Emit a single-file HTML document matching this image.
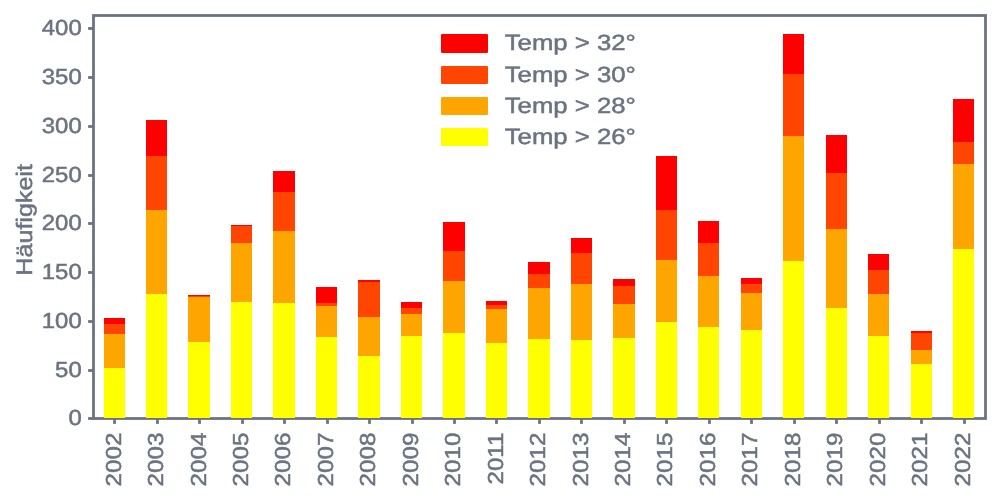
<!DOCTYPE html>
    <html><head><meta charset="utf-8"><style>
    html,body{margin:0;padding:0;background:#fff;}
    body{width:1000px;height:500px;overflow:hidden;}
    svg{display:block;}
    .tx{opacity:0.999;}
    text{font-family:"Liberation Sans",sans-serif;text-rendering:geometricPrecision;fill:#6b7280;stroke:#6b7280;stroke-width:0.5px;}
    </style></head><body>
    <svg width="1000" height="500" viewBox="0 0 1000 500">
    <rect width="1000" height="500" fill="#fff"/>
    <rect x="93.5" y="15.5" width="892.0" height="403.0" fill="none" stroke="#6b7280" stroke-width="2.78"/>
    <g stroke="#6b7280" stroke-width="2.78">
    <line x1="88.10" y1="418.50" x2="93.50" y2="418.50"/>
<line x1="88.10" y1="370.50" x2="93.50" y2="370.50"/>
<line x1="88.10" y1="321.50" x2="93.50" y2="321.50"/>
<line x1="88.10" y1="272.50" x2="93.50" y2="272.50"/>
<line x1="88.10" y1="223.50" x2="93.50" y2="223.50"/>
<line x1="88.10" y1="175.50" x2="93.50" y2="175.50"/>
<line x1="88.10" y1="126.50" x2="93.50" y2="126.50"/>
<line x1="88.10" y1="77.50" x2="93.50" y2="77.50"/>
<line x1="88.10" y1="28.50" x2="93.50" y2="28.50"/>
<line x1="114.50" y1="418.50" x2="114.50" y2="423.90"/>
<line x1="157.50" y1="418.50" x2="157.50" y2="423.90"/>
<line x1="199.50" y1="418.50" x2="199.50" y2="423.90"/>
<line x1="242.50" y1="418.50" x2="242.50" y2="423.90"/>
<line x1="284.50" y1="418.50" x2="284.50" y2="423.90"/>
<line x1="327.50" y1="418.50" x2="327.50" y2="423.90"/>
<line x1="369.50" y1="418.50" x2="369.50" y2="423.90"/>
<line x1="412.50" y1="418.50" x2="412.50" y2="423.90"/>
<line x1="454.50" y1="418.50" x2="454.50" y2="423.90"/>
<line x1="496.50" y1="418.50" x2="496.50" y2="423.90"/>
<line x1="539.50" y1="418.50" x2="539.50" y2="423.90"/>
<line x1="581.50" y1="418.50" x2="581.50" y2="423.90"/>
<line x1="624.50" y1="418.50" x2="624.50" y2="423.90"/>
<line x1="666.50" y1="418.50" x2="666.50" y2="423.90"/>
<line x1="709.50" y1="418.50" x2="709.50" y2="423.90"/>
<line x1="751.50" y1="418.50" x2="751.50" y2="423.90"/>
<line x1="794.50" y1="418.50" x2="794.50" y2="423.90"/>
<line x1="836.50" y1="418.50" x2="836.50" y2="423.90"/>
<line x1="879.50" y1="418.50" x2="879.50" y2="423.90"/>
<line x1="921.50" y1="418.50" x2="921.50" y2="423.90"/>
<line x1="964.50" y1="418.50" x2="964.50" y2="423.90"/>
    </g>
    <g shape-rendering="crispEdges">
    <rect x="104" y="318" width="21" height="6" fill="#ff0000"/>
<rect x="104" y="324" width="21" height="10" fill="#ff4500"/>
<rect x="104" y="334" width="21" height="34" fill="#ffa500"/>
<rect x="104" y="368" width="21" height="50" fill="#ffff00"/>
<rect x="146" y="120" width="21" height="36" fill="#ff0000"/>
<rect x="146" y="156" width="21" height="54" fill="#ff4500"/>
<rect x="146" y="210" width="21" height="84" fill="#ffa500"/>
<rect x="146" y="294" width="21" height="124" fill="#ffff00"/>
<rect x="188" y="295" width="22" height="1" fill="#ff0000"/>
<rect x="188" y="296" width="22" height="1" fill="#ff4500"/>
<rect x="188" y="297" width="22" height="45" fill="#ffa500"/>
<rect x="188" y="342" width="22" height="76" fill="#ffff00"/>
<rect x="231" y="225" width="21" height="1" fill="#ff0000"/>
<rect x="231" y="226" width="21" height="17" fill="#ff4500"/>
<rect x="231" y="243" width="21" height="59" fill="#ffa500"/>
<rect x="231" y="302" width="21" height="116" fill="#ffff00"/>
<rect x="273" y="171" width="22" height="21" fill="#ff0000"/>
<rect x="273" y="192" width="22" height="39" fill="#ff4500"/>
<rect x="273" y="231" width="22" height="72" fill="#ffa500"/>
<rect x="273" y="303" width="22" height="115" fill="#ffff00"/>
<rect x="316" y="287" width="21" height="16" fill="#ff0000"/>
<rect x="316" y="303" width="21" height="3" fill="#ff4500"/>
<rect x="316" y="306" width="21" height="31" fill="#ffa500"/>
<rect x="316" y="337" width="21" height="81" fill="#ffff00"/>
<rect x="358" y="280" width="22" height="2" fill="#ff0000"/>
<rect x="358" y="282" width="22" height="35" fill="#ff4500"/>
<rect x="358" y="317" width="22" height="39" fill="#ffa500"/>
<rect x="358" y="356" width="22" height="62" fill="#ffff00"/>
<rect x="401" y="302" width="21" height="6" fill="#ff0000"/>
<rect x="401" y="308" width="21" height="6" fill="#ff4500"/>
<rect x="401" y="314" width="21" height="22" fill="#ffa500"/>
<rect x="401" y="336" width="21" height="82" fill="#ffff00"/>
<rect x="443" y="222" width="22" height="29" fill="#ff0000"/>
<rect x="443" y="251" width="22" height="30" fill="#ff4500"/>
<rect x="443" y="281" width="22" height="52" fill="#ffa500"/>
<rect x="443" y="333" width="22" height="85" fill="#ffff00"/>
<rect x="486" y="301" width="21" height="4" fill="#ff0000"/>
<rect x="486" y="305" width="21" height="4" fill="#ff4500"/>
<rect x="486" y="309" width="21" height="34" fill="#ffa500"/>
<rect x="486" y="343" width="21" height="75" fill="#ffff00"/>
<rect x="528" y="262" width="22" height="12" fill="#ff0000"/>
<rect x="528" y="274" width="22" height="14" fill="#ff4500"/>
<rect x="528" y="288" width="22" height="51" fill="#ffa500"/>
<rect x="528" y="339" width="22" height="79" fill="#ffff00"/>
<rect x="571" y="238" width="21" height="15" fill="#ff0000"/>
<rect x="571" y="253" width="21" height="31" fill="#ff4500"/>
<rect x="571" y="284" width="21" height="56" fill="#ffa500"/>
<rect x="571" y="340" width="21" height="78" fill="#ffff00"/>
<rect x="613" y="279" width="22" height="7" fill="#ff0000"/>
<rect x="613" y="286" width="22" height="18" fill="#ff4500"/>
<rect x="613" y="304" width="22" height="34" fill="#ffa500"/>
<rect x="613" y="338" width="22" height="80" fill="#ffff00"/>
<rect x="656" y="156" width="21" height="54" fill="#ff0000"/>
<rect x="656" y="210" width="21" height="50" fill="#ff4500"/>
<rect x="656" y="260" width="21" height="62" fill="#ffa500"/>
<rect x="656" y="322" width="21" height="96" fill="#ffff00"/>
<rect x="698" y="221" width="21" height="22" fill="#ff0000"/>
<rect x="698" y="243" width="21" height="33" fill="#ff4500"/>
<rect x="698" y="276" width="21" height="51" fill="#ffa500"/>
<rect x="698" y="327" width="21" height="91" fill="#ffff00"/>
<rect x="741" y="278" width="21" height="6" fill="#ff0000"/>
<rect x="741" y="284" width="21" height="9" fill="#ff4500"/>
<rect x="741" y="293" width="21" height="37" fill="#ffa500"/>
<rect x="741" y="330" width="21" height="88" fill="#ffff00"/>
<rect x="783" y="34" width="21" height="40" fill="#ff0000"/>
<rect x="783" y="74" width="21" height="62" fill="#ff4500"/>
<rect x="783" y="136" width="21" height="125" fill="#ffa500"/>
<rect x="783" y="261" width="21" height="157" fill="#ffff00"/>
<rect x="826" y="135" width="21" height="38" fill="#ff0000"/>
<rect x="826" y="173" width="21" height="56" fill="#ff4500"/>
<rect x="826" y="229" width="21" height="79" fill="#ffa500"/>
<rect x="826" y="308" width="21" height="110" fill="#ffff00"/>
<rect x="868" y="254" width="21" height="16" fill="#ff0000"/>
<rect x="868" y="270" width="21" height="24" fill="#ff4500"/>
<rect x="868" y="294" width="21" height="42" fill="#ffa500"/>
<rect x="868" y="336" width="21" height="82" fill="#ffff00"/>
<rect x="911" y="331" width="21" height="2" fill="#ff0000"/>
<rect x="911" y="333" width="21" height="17" fill="#ff4500"/>
<rect x="911" y="350" width="21" height="14" fill="#ffa500"/>
<rect x="911" y="364" width="21" height="54" fill="#ffff00"/>
<rect x="953" y="99" width="21" height="43" fill="#ff0000"/>
<rect x="953" y="142" width="21" height="22" fill="#ff4500"/>
<rect x="953" y="164" width="21" height="85" fill="#ffa500"/>
<rect x="953" y="249" width="21" height="169" fill="#ffff00"/>
    </g>
    <g class="tx">
    <text transform="translate(81.7201,425.44) scale(1.1017,1)" font-size="21.7249" text-anchor="end">0</text>
<text transform="translate(81.7201,376.68) scale(1.1017,1)" font-size="21.7249" text-anchor="end">50</text>
<text transform="translate(81.7201,327.92) scale(1.1017,1)" font-size="21.7249" text-anchor="end">100</text>
<text transform="translate(81.7201,279.17) scale(1.1017,1)" font-size="21.7249" text-anchor="end">150</text>
<text transform="translate(81.7201,230.41) scale(1.1017,1)" font-size="21.7249" text-anchor="end">200</text>
<text transform="translate(81.7201,181.65) scale(1.1017,1)" font-size="21.7249" text-anchor="end">250</text>
<text transform="translate(81.7201,132.90) scale(1.1017,1)" font-size="21.7249" text-anchor="end">300</text>
<text transform="translate(81.7201,84.14) scale(1.1017,1)" font-size="21.7249" text-anchor="end">350</text>
<text transform="translate(81.7201,35.38) scale(1.1017,1)" font-size="21.7249" text-anchor="end">400</text>
<text transform="translate(120.61,432.4761) rotate(-90) scale(1.1176,1)" font-size="21.7068" text-anchor="end">2002</text>
<text transform="translate(163.06,432.4761) rotate(-90) scale(1.1176,1)" font-size="21.7068" text-anchor="end">2003</text>
<text transform="translate(205.51,432.4761) rotate(-90) scale(1.1176,1)" font-size="21.7068" text-anchor="end">2004</text>
<text transform="translate(247.96,432.4761) rotate(-90) scale(1.1176,1)" font-size="21.7068" text-anchor="end">2005</text>
<text transform="translate(290.41,432.4761) rotate(-90) scale(1.1176,1)" font-size="21.7068" text-anchor="end">2006</text>
<text transform="translate(332.86,432.4761) rotate(-90) scale(1.1176,1)" font-size="21.7068" text-anchor="end">2007</text>
<text transform="translate(375.31,432.4761) rotate(-90) scale(1.1176,1)" font-size="21.7068" text-anchor="end">2008</text>
<text transform="translate(417.76,432.4761) rotate(-90) scale(1.1176,1)" font-size="21.7068" text-anchor="end">2009</text>
<text transform="translate(460.21,432.4761) rotate(-90) scale(1.1176,1)" font-size="21.7068" text-anchor="end">2010</text>
<text transform="translate(502.66,432.4761) rotate(-90) scale(1.1176,1)" font-size="21.7068" text-anchor="end">2011</text>
<text transform="translate(545.11,432.4761) rotate(-90) scale(1.1176,1)" font-size="21.7068" text-anchor="end">2012</text>
<text transform="translate(587.56,432.4761) rotate(-90) scale(1.1176,1)" font-size="21.7068" text-anchor="end">2013</text>
<text transform="translate(630.01,432.4761) rotate(-90) scale(1.1176,1)" font-size="21.7068" text-anchor="end">2014</text>
<text transform="translate(672.46,432.4761) rotate(-90) scale(1.1176,1)" font-size="21.7068" text-anchor="end">2015</text>
<text transform="translate(714.91,432.4761) rotate(-90) scale(1.1176,1)" font-size="21.7068" text-anchor="end">2016</text>
<text transform="translate(757.36,432.4761) rotate(-90) scale(1.1176,1)" font-size="21.7068" text-anchor="end">2017</text>
<text transform="translate(799.81,432.4761) rotate(-90) scale(1.1176,1)" font-size="21.7068" text-anchor="end">2018</text>
<text transform="translate(842.26,432.4761) rotate(-90) scale(1.1176,1)" font-size="21.7068" text-anchor="end">2019</text>
<text transform="translate(884.71,432.4761) rotate(-90) scale(1.1176,1)" font-size="21.7068" text-anchor="end">2020</text>
<text transform="translate(927.16,432.4761) rotate(-90) scale(1.1176,1)" font-size="21.7068" text-anchor="end">2021</text>
<text transform="translate(969.61,432.4761) rotate(-90) scale(1.1176,1)" font-size="21.7068" text-anchor="end">2022</text>
    <text transform="translate(31.9695,219.8679) rotate(-90) scale(1.1247,1)" font-size="22.3064" text-anchor="middle">Häufigkeit</text>
    <text transform="translate(504.7566,50.4) scale(1.1683,1)" font-size="22.0134">Temp &gt; 32°</text>
<text transform="translate(504.7566,81.6) scale(1.1683,1)" font-size="22.0134">Temp &gt; 30°</text>
<text transform="translate(504.7566,112.8) scale(1.1683,1)" font-size="22.0134">Temp &gt; 28°</text>
<text transform="translate(504.7566,144.0) scale(1.1683,1)" font-size="22.0134">Temp &gt; 26°</text>
    </g>
    <rect x="441" y="34" width="47" height="19" rx="1.2" fill="#ff0000"/>
<rect x="441" y="66" width="47" height="18" rx="1.2" fill="#ff4500"/>
<rect x="441" y="97" width="47" height="18" rx="1.2" fill="#ffa500"/>
<rect x="441" y="128" width="47" height="18" rx="1.2" fill="#ffff00"/>
    </svg>
    </body></html>
